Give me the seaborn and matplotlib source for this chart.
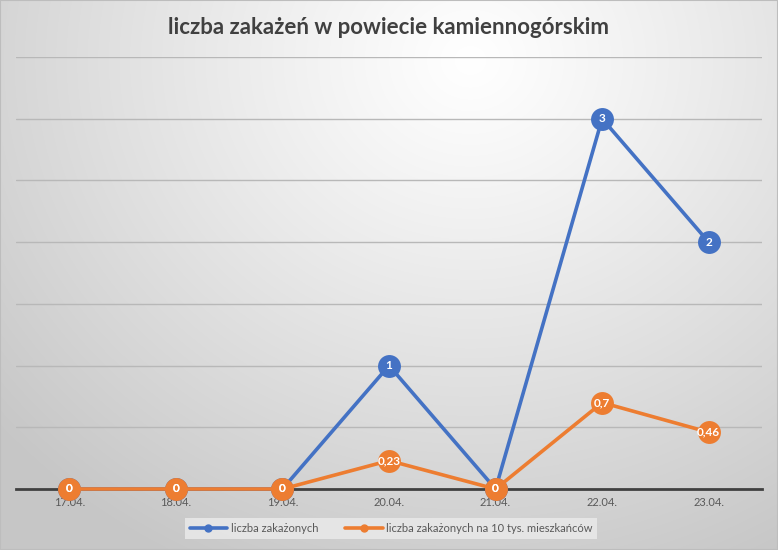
import numpy as np
import pandas as pd
import matplotlib
matplotlib.use("Agg")
import matplotlib.pyplot as plt
import seaborn as sns
from matplotlib.lines import Line2D

dates = ["17.04.", "18.04.", "19.04.", "20.04.", "21.04.", "22.04.", "23.04."]
cases = [0, 0, 0, 1, 0, 3, 2]
cases_per_10k = [0, 0, 0, 0.23, 0, 0.7, 0.46]
cases_labels = ["0", "0", "0", "1", "0", "3", "2"]
per10k_labels = ["0", "0", "0", "0,23", "0", "0,7", "0,46"]
series_names = ["liczba zakażonych", "liczba zakażonych na 10 tys. mieszkańców"]
title = "liczba zakażeń w powiecie kamiennogórskim"

sns.set_theme(style="white")
plt.rcParams['font.family'] = ['Lato', 'DejaVu Sans']

BLUE = "#4472C4"
ORANGE = "#ED7D31"

fig = plt.figure(figsize=(7.78, 5.5), dpi=100)

# background radial gradient
bg = fig.add_axes([0, 0, 1, 1], zorder=-10)
H, W = 550, 778
yy, xx = np.mgrid[0:H, 0:W]
cx, cy = 470, 60
r = np.sqrt(((xx - cx) / 620.0) ** 2 + ((yy - cy) / 560.0) ** 2)
r = np.clip(r, 0, 1)
val = 1.0 - 0.22 * r ** 1.1
img = np.dstack([val, val, val])
bg.imshow(img, aspect="auto", extent=[0, 1, 0, 1], origin="upper")
bg.set_axis_off()
bg.add_patch(plt.Rectangle((0, 0), 1, 1, transform=bg.transAxes, fill=False,
                           edgecolor="#bdbdbd", linewidth=1.5))

ax = fig.add_axes([16 / 778, 61 / 550, 746 / 778, 432 / 550])
ax.set_facecolor("none")

x = np.arange(len(dates))
df = pd.DataFrame({"x": x, "cases": cases, "per10k": cases_per_10k})

sns.lineplot(data=df, x="x", y="cases", ax=ax, color=BLUE, linewidth=2.6,
             marker="o", markersize=16.5, markeredgewidth=0, zorder=3)
sns.lineplot(data=df, x="x", y="per10k", ax=ax, color=ORANGE, linewidth=2.6,
             marker="o", markersize=16.5, markeredgewidth=0, zorder=4)
for ln in ax.lines:
    ln.set_clip_on(False)

for xi, yi, lab in zip(x, cases, cases_labels):
    ax.text(xi, yi, lab, color="white", ha="center", va="center",
            fontsize=8.5, fontweight="bold", zorder=5)
for xi, yi, lab in zip(x, cases_per_10k, per10k_labels):
    ax.text(xi, yi, lab, color="white", ha="center", va="center",
            fontsize=8.5, fontweight="bold", zorder=6)

ax.set_xlim(-0.5, len(dates) - 0.5)
ax.set_ylim(0, 3.5)
ax.set_yticks(np.arange(0, 3.51, 0.5))
ax.yaxis.grid(True, color="#b8b8b8", linewidth=1.0)
ax.set_axisbelow(True)
ax.set_yticklabels([])
ax.tick_params(axis="y", length=0)
ax.set_xticks(x)
ax.set_xticklabels(dates, fontsize=8, color="#595959")
ax.tick_params(axis="x", length=0, pad=6)
ax.set_xlabel("")
ax.set_ylabel("")
for s in ["top", "right", "left"]:
    ax.spines[s].set_visible(False)
ax.spines["bottom"].set_color("#404040")
ax.spines["bottom"].set_linewidth(2)
ax.spines["bottom"].set_zorder(2)

fig.text(389 / 778, 1 - 27 / 550, title, ha="center", va="center",
         fontsize=16, fontweight="bold", color="#404040")

handles = [Line2D([0], [0], color=BLUE, lw=2.6, marker="o", markersize=5),
           Line2D([0], [0], color=ORANGE, lw=2.6, marker="o", markersize=5)]
leg = fig.legend(handles, series_names, loc="center", bbox_to_anchor=(391 / 778, 1 - 528 / 550),
                 ncol=2, frameon=True, fontsize=8, labelcolor="#595959",
                 handlelength=3.4, handletextpad=0.3, columnspacing=2.4,
                 borderpad=0.45, fancybox=False)
leg.get_frame().set_facecolor("#e8e8e8")
leg.get_frame().set_edgecolor("none")
leg.get_frame().set_alpha(0.9)

fig.savefig("out.png", dpi=100)
